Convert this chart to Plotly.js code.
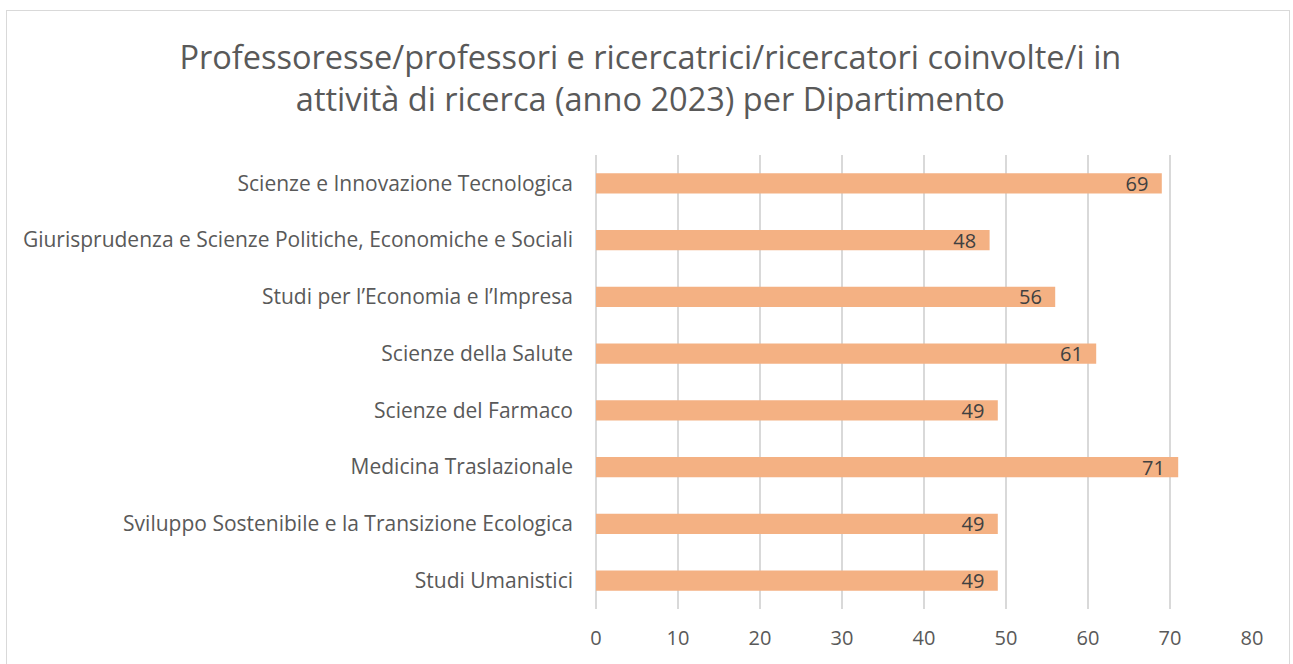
<!DOCTYPE html>
<html>
<head>
<meta charset="utf-8">
<script src="https://cdn.plot.ly/plotly-3.0.1.min.js"></script>
<style>
  body { margin: 0; background: #fff; }
  #plot { width: 1293px; height: 664px; }
  #frame { position: absolute; left: 6px; top: 10px; width: 1282px; height: 660px;
           border: 1px solid #d9d9d9; pointer-events: none; }
</style>
</head>
<body>
<div id="plot"></div>
<div id="frame"></div>
<script>
var departments = [
  'Studi Umanistici',
  'Sviluppo Sostenibile e la Transizione Ecologica',
  'Medicina Traslazionale',
  'Scienze del Farmaco',
  'Scienze della Salute',
  'Studi per l\u2019Economia e l\u2019Impresa',
  'Giurisprudenza e Scienze Politiche, Economiche e Sociali',
  'Scienze e Innovazione Tecnologica'
];
var counts = [49, 49, 71, 49, 61, 56, 48, 69];
var xTicks = [0, 10, 20, 30, 40, 50, 60, 70, 80];

var data = [{
  type: 'bar',
  orientation: 'h',
  y: departments,
  x: counts,
  // trailing nbsp keeps the label off the bar end, like the original
  text: counts.map(function (v) { return v + '\u00a0\u00a0'; }),
  textposition: 'inside',
  insidetextanchor: 'end',
  textangle: 0,
  constraintext: 'none',
  textfont: {family: 'Open Sans, Liberation Sans, sans-serif', size: 20, color: '#404040'},
  marker: {color: '#F4B183'},
  hoverinfo: 'x+y'
}];

var layout = {
  width: 1293,
  height: 664,
  margin: {l: 596, r: 41, t: 155, b: 55},
  paper_bgcolor: '#fff',
  plot_bgcolor: '#fff',
  bargap: 0.64,
  showlegend: false,
  font: {family: 'Open Sans, Liberation Sans, sans-serif', color: '#595959'},
  title: {
    text: 'Professoresse/professori e ricercatrici/ricercatori coinvolte/i in<br>attivit\u00e0 di ricerca (anno 2023) per Dipartimento',
    font: {size: 32.5, color: '#595959'},
    x: 0.503,
    xanchor: 'center',
    yref: 'container',
    y: 0.896,
    yanchor: 'middle'
  },
  xaxis: {
    range: [0, 80],
    tickvals: xTicks,
    showgrid: true,
    gridcolor: '#d9d9d9',
    gridwidth: 1.5,
    zeroline: true,
    zerolinecolor: '#d9d9d9',
    zerolinewidth: 1.5,
    showline: false,
    ticks: '',
    ticklabelstandoff: 15,
    tickfont: {size: 20, color: '#595959'},
    fixedrange: true
  },
  yaxis: {
    ticks: '',
    ticklabelstandoff: 22,
    tickfont: {size: 21, color: '#595959'},
    showgrid: false,
    fixedrange: true
  }
};

Plotly.newPlot('plot', data, layout, {displayModeBar: false, staticPlot: true});
</script>
</body>
</html>
